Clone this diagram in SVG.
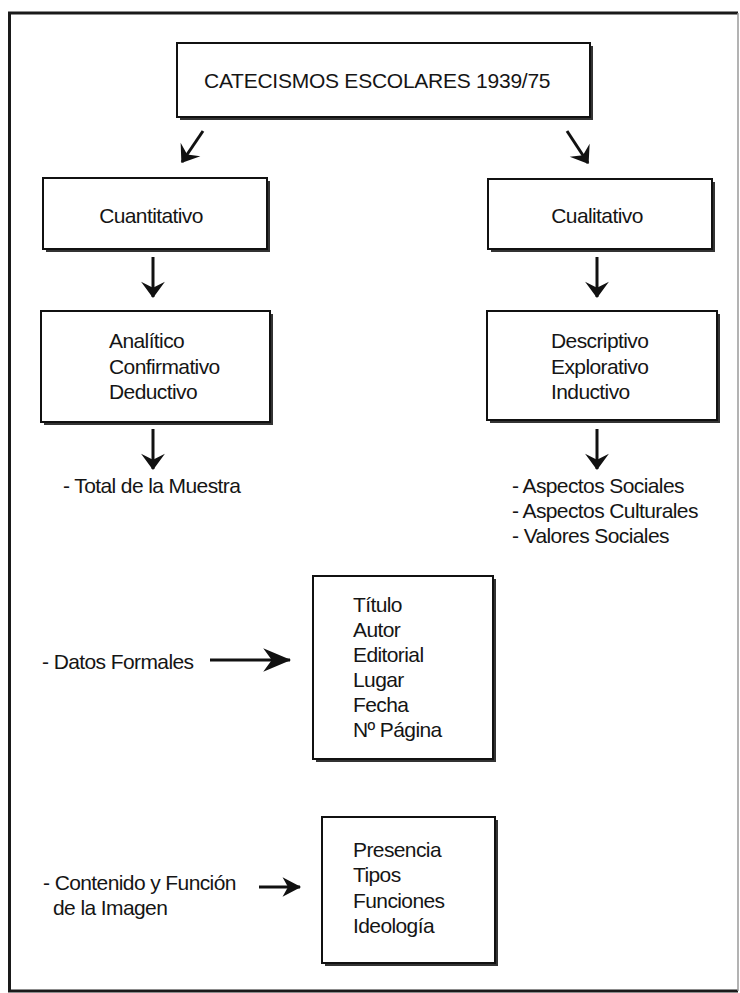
<svg xmlns="http://www.w3.org/2000/svg" width="740" height="993" viewBox="0 0 740 993">
<style>
  text { font-family: "Liberation Sans", Arial, sans-serif; font-size: 21px; letter-spacing: -0.6px; fill: #151515; }
  .title { font-size: 21px; letter-spacing: -0.25px; }
  .shadow { fill: #333333; }
  .box { fill: #ffffff; stroke: #111111; stroke-width: 2; }
  .conn { stroke: #111111; stroke-width: 3; fill: none; }
</style>
<defs>
  <marker id="ah" markerUnits="userSpaceOnUse" markerWidth="26" markerHeight="26" viewBox="-15 -12 17 24" refX="0" refY="0" orient="auto">
    <path d="M1,0 L-14,-11 L-8.5,0 L-14,11 Z" fill="#111111"/>
  </marker>
  <marker id="ahBig" markerUnits="userSpaceOnUse" markerWidth="30" markerHeight="30" viewBox="-26 -13 28 26" refX="0" refY="0" orient="auto">
    <path d="M1,0 L-25,-11 L-17,0 L-25,11 Z" fill="#111111"/>
  </marker>
  <marker id="ahMid" markerUnits="userSpaceOnUse" markerWidth="24" markerHeight="24" viewBox="-18 -11 20 22" refX="0" refY="0" orient="auto">
    <path d="M1,0 L-16,-9 L-11,0 L-16,9 Z" fill="#111111"/>
  </marker>
</defs>

<rect x="0" y="0" width="740" height="993" fill="#ffffff"/>

<g id="frame">
  <path d="M738,13 L9.5,13 L9.5,991 L738,991" fill="none" stroke="#1a1a1a" stroke-width="3"/>
  <line x1="738" y1="13" x2="738" y2="991" stroke="#9a9a9a" stroke-width="1.5"/>
</g>

<g id="connectors">
  <line class="conn" x1="203" y1="131" x2="182" y2="162" marker-end="url(#ah)"/>
  <line class="conn" x1="567" y1="131" x2="588" y2="163" marker-end="url(#ah)"/>
  <line class="conn" x1="153" y1="257" x2="153" y2="297" marker-end="url(#ah)"/>
  <line class="conn" x1="597" y1="257" x2="597" y2="297" marker-end="url(#ah)"/>
  <line class="conn" x1="153" y1="429" x2="153" y2="469" marker-end="url(#ah)"/>
  <line class="conn" x1="597" y1="429" x2="597" y2="469" marker-end="url(#ah)"/>
  <line class="conn" x1="210" y1="660" x2="290" y2="660" stroke-width="3.5" marker-end="url(#ahBig)"/>
  <line class="conn" x1="259" y1="887" x2="300" y2="887" marker-end="url(#ahMid)"/>
</g>

<g id="n-catecismos">
  <rect class="shadow" x="180" y="46" width="413" height="74"/>
  <rect class="box" x="177" y="43" width="413" height="74"/>
  <text class="title" x="204" y="88">CATECISMOS ESCOLARES 1939/75</text>
</g>

<g id="n-cuantitativo">
  <rect class="shadow" x="46" y="181" width="224" height="71"/>
  <rect class="box" x="43" y="178" width="224" height="71"/>
  <text x="151" y="223" text-anchor="middle">Cuantitativo</text>
</g>

<g id="n-cualitativo">
  <rect class="shadow" x="491" y="182" width="224" height="70"/>
  <rect class="box" x="488" y="179" width="224" height="70"/>
  <text x="597" y="223" text-anchor="middle">Cualitativo</text>
</g>

<g id="n-analitico">
  <rect class="shadow" x="44" y="314" width="229" height="111"/>
  <rect class="box" x="41" y="311" width="229" height="111"/>
  <text x="109" y="348">Analítico</text>
  <text x="109" y="374">Confirmativo</text>
  <text x="109" y="399">Deductivo</text>
</g>

<g id="n-descriptivo">
  <rect class="shadow" x="490" y="314" width="230" height="109"/>
  <rect class="box" x="487" y="311" width="230" height="109"/>
  <text x="551" y="348">Descriptivo</text>
  <text x="551" y="374">Explorativo</text>
  <text x="551" y="399">Inductivo</text>
</g>

<g id="n-total">
  <text x="63" y="493">- Total de la Muestra</text>
</g>

<g id="n-aspectos">
  <text x="512" y="493">- Aspectos Sociales</text>
  <text x="512" y="518">- Aspectos Culturales</text>
  <text x="512" y="543">- Valores Sociales</text>
</g>

<g id="n-datos">
  <text x="42" y="669">- Datos Formales</text>
</g>

<g id="n-titulo">
  <rect class="shadow" x="316" y="579" width="180" height="183"/>
  <rect class="box" x="313" y="576" width="180" height="183"/>
  <text x="353" y="612">Título</text>
  <text x="353" y="637">Autor</text>
  <text x="353" y="662">Editorial</text>
  <text x="353" y="687">Lugar</text>
  <text x="353" y="712">Fecha</text>
  <text x="353" y="737">Nº Página</text>
</g>

<g id="n-contenido">
  <text x="43" y="890">- Contenido y Función</text>
  <text x="53" y="915">de la Imagen</text>
</g>

<g id="n-presencia">
  <rect class="shadow" x="325" y="820" width="173" height="146"/>
  <rect class="box" x="322" y="817" width="173" height="146"/>
  <text x="353" y="857">Presencia</text>
  <text x="353" y="882">Tipos</text>
  <text x="353" y="908">Funciones</text>
  <text x="353" y="933">Ideología</text>
</g>
</svg>
